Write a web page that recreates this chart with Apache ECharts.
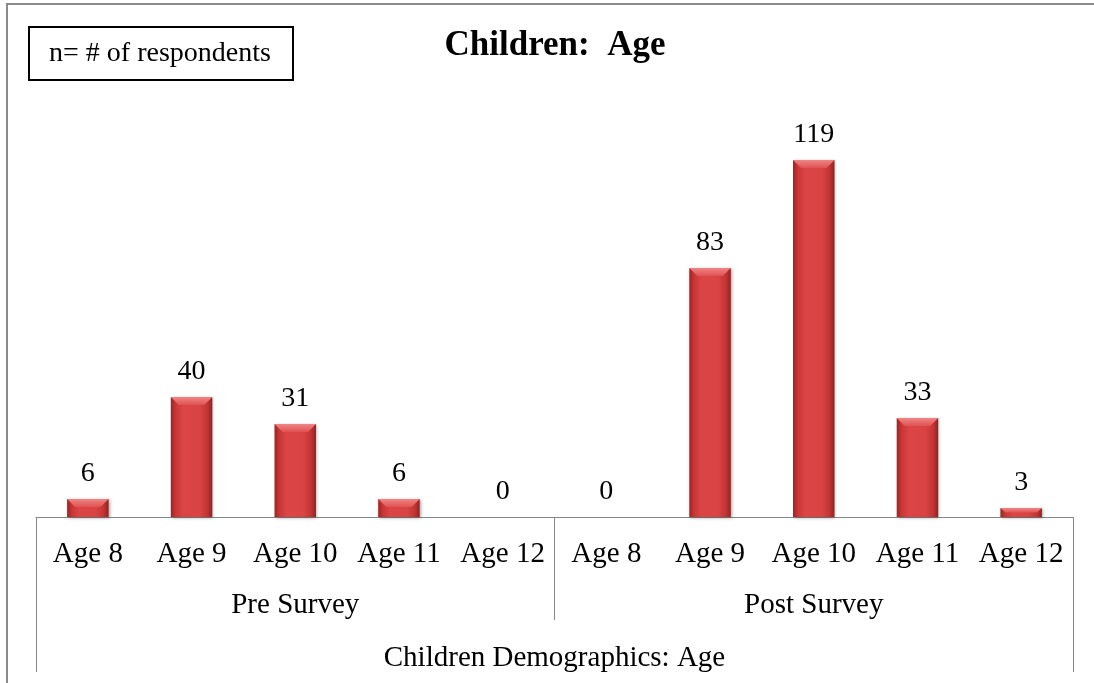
<!DOCTYPE html>
<html>
<head>
<meta charset="utf-8">
<title>Children: Age</title>
<script src="https://cdn.jsdelivr.net/npm/echarts@6/dist/echarts.min.js"></script>
<style>
  html, body { margin: 0; padding: 0; background: #ffffff; }
  #chart { width: 1094px; height: 683px; }
</style>
</head>
<body>
<div id="chart"></div>
<script>
// Age groups shown under each survey
const ageLabels = ['Age 8', 'Age 9', 'Age 10', 'Age 11', 'Age 12'];
// Survey rounds (second axis level)
const surveyGroups = ['Pre Survey', 'Post Survey'];
// Overall axis caption (third level)
const axisCaption = 'Children Demographics: Age';
// Number of respondents per age
const preValues = [6, 40, 31, 6, 0];
const postValues = [0, 83, 119, 33, 3];

const FONT = '"Liberation Serif", "Times New Roman", serif';
const GRID_LEFT = 36, GRID_RIGHT = 1073, AXIS_Y = 517;
const BAR_RATIO = 0.4;

// Flatten the two survey groups into one category sequence
const categories = surveyGroups.flatMap(() => ageLabels);
const values = preValues.concat(postValues);

const chart = echarts.init(document.getElementById('chart'), null, { renderer: 'canvas' });

const barColor = new echarts.graphic.LinearGradient(0, 0, 1, 0, [
  { offset: 0, color: '#9e2323' },
  { offset: 0.12, color: '#c93636' },
  { offset: 0.3, color: '#db4545' },
  { offset: 0.7, color: '#d94343' },
  { offset: 0.88, color: '#c23434' },
  { offset: 1, color: '#962020' }
]);

const axisGray = '#868686';

// Light bevel drawn across the top edge of every bar
function renderBevel(params, api) {
  const v = api.value(1);
  if (!v) return null;
  const top = api.coord([api.value(0), v]);
  const base = api.coord([api.value(0), 0]);
  const w = api.size([1, 0])[0] * BAR_RATIO;
  const h = Math.min(8, (base[1] - top[1]) / 2);
  const inset = Math.min(8, h * 1.1);
  const x0 = top[0] - w / 2, x1 = top[0] + w / 2, y = top[1];
  return {
    type: 'polygon',
    shape: { points: [[x0, y], [x1, y], [x1 - inset, y + h], [x0 + inset, y + h]] },
    style: {
      fill: new echarts.graphic.LinearGradient(0, 0, 0, 1, [
        { offset: 0, color: '#f08585' },
        { offset: 1, color: '#e05252' }
      ])
    },
    silent: true
  };
}

chart.setOption({
  animation: false,
  backgroundColor: '#ffffff',
  grid: {
    left: GRID_LEFT,
    right: 1094 - GRID_RIGHT,
    top: AXIS_Y - 420,
    bottom: 683 - AXIS_Y,
    containLabel: false,
    outerBoundsMode: 'none'
  },
  xAxis: [
    {
      type: 'category',
      data: categories,
      position: 'bottom',
      axisLine: { show: true, lineStyle: { color: axisGray, width: 1 } },
      axisTick: { show: false },
      axisLabel: {
        interval: 0, margin: 23, fontSize: 29, color: '#000', fontFamily: FONT, hideOverlap: false
      },
      splitLine: { show: false }
    },
    {
      type: 'category',
      data: surveyGroups,
      position: 'bottom',
      axisLine: { show: false },
      axisTick: { show: true, interval: 0, length: 103, lineStyle: { color: axisGray, width: 1 } },
      axisLabel: { interval: 0, margin: 74, fontSize: 29, color: '#000', fontFamily: FONT },
      splitLine: { show: false }
    },
    {
      type: 'category',
      data: [axisCaption],
      position: 'bottom',
      axisLine: { show: false },
      axisTick: { show: true, interval: 0, length: 155, lineStyle: { color: axisGray, width: 1 } },
      axisLabel: { interval: 0, margin: 127, fontSize: 29, color: '#000', fontFamily: FONT },
      splitLine: { show: false }
    }
  ],
  yAxis: {
    type: 'value',
    min: 0,
    max: 140,
    show: false,
    splitLine: { show: false }
  },
  series: [
    {
      type: 'bar',
      xAxisIndex: 0,
      data: values,
      barWidth: (BAR_RATIO * 100) + '%',
      itemStyle: {
        color: barColor,
        shadowColor: 'rgba(0,0,0,0.35)',
        shadowBlur: 3,
        shadowOffsetX: 1,
        shadowOffsetY: 1
      },
      label: {
        show: true,
        position: 'top',
        distance: 11,
        fontSize: 28,
        color: '#000',
        fontFamily: FONT
      }
    },
    {
      type: 'custom',
      xAxisIndex: 0,
      renderItem: renderBevel,
      data: values.map((v, i) => [i, v]),
      encode: { x: 0, y: 1 },
      z: 5,
      silent: true
    }
  ],
  graphic: [
    {
      type: 'rect',
      shape: { x: 7, y: 4, width: 1120, height: 720 },
      style: { fill: 'none', stroke: '#8a8a8a', lineWidth: 2 },
      silent: true
    },
    {
      type: 'rect',
      shape: { x: 29, y: 27, width: 264, height: 53 },
      style: { fill: '#ffffff', stroke: '#000000', lineWidth: 2 },
      silent: true
    },
    {
      type: 'text',
      x: 160, y: 54,
      style: {
        text: 'n= # of respondents',
        fontSize: 28, fontFamily: FONT, fill: '#000',
        align: 'center', verticalAlign: 'middle'
      },
      silent: true
    },
    {
      type: 'text',
      x: 555, y: 46,
      style: {
        text: 'Children:  Age',
        fontSize: 35, fontWeight: 'bold', fontFamily: FONT, fill: '#000',
        align: 'center', verticalAlign: 'middle'
      },
      silent: true
    }
  ]
});
</script>
</body>
</html>
